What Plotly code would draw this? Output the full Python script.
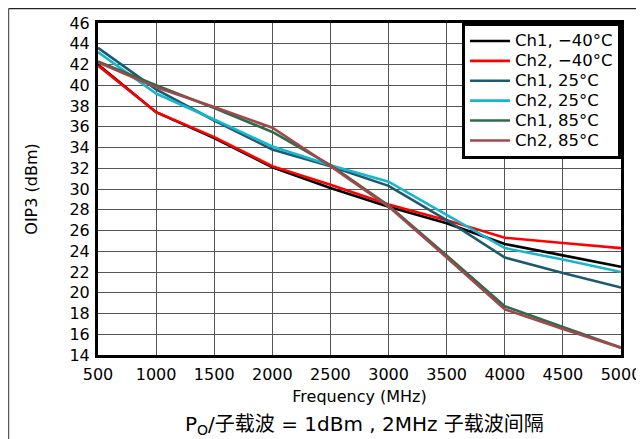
import plotly.graph_objects as go

freq = [500, 1000, 1500, 2000, 2500, 3000, 3500, 4000, 4500, 5000]
ch1_m40 = [42.0, 37.4, 34.9, 32.1, 30.1, 28.3, 26.7, 24.7, 23.6, 22.5]
ch2_m40 = [41.9, 37.4, 35.0, 32.2, 30.4, 28.5, 27.0, 25.3, 24.8, 24.3]
ch1_25 = [43.6, 39.6, 36.6, 33.8, 32.2, 30.3, 27.0, 23.4, 21.9, 20.5]
ch2_25 = [43.2, 39.2, 36.7, 34.1, 32.3, 30.7, 27.5, 24.3, 23.2, 22.0]
ch1_85 = [42.3, 40.0, 37.8, 35.5, 32.3, 28.4, 23.6, 18.7, 16.7, 14.7]
ch2_85 = [42.2, 39.8, 37.9, 35.9, 32.2, 28.3, 23.4, 18.4, 16.5, 14.7]

series = [
    ("Ch1, \u221240\u00b0C", ch1_m40, "#000000"),
    ("Ch2, \u221240\u00b0C", ch2_m40, "#ff0000"),
    ("Ch1, 25\u00b0C", ch1_25, "#1d5a70"),
    ("Ch2, 25\u00b0C", ch2_25, "#17b6cf"),
    ("Ch1, 85\u00b0C", ch1_85, "#2e6b4c"),
    ("Ch2, 85\u00b0C", ch2_85, "#a0484a"),
]

FONT = "DejaVu Sans, Liberation Sans, Arial, sans-serif"

fig = go.Figure()
for name, vals, col in series:
    fig.add_trace(go.Scatter(
        x=freq, y=vals, mode="lines",
        name='<span style="font-size:16.5px">' + name + "</span>",
        line=dict(color=col, width=2.6)))

fig.update_layout(
    width=644, height=439,
    margin=dict(l=90, r=31, t=15, b=92),
    paper_bgcolor="white", plot_bgcolor="white",
    font=dict(family=FONT, size=16, color="#000000"),
    showlegend=True,
    legend=dict(x=1, xanchor="right", y=1, yanchor="top",
                bgcolor="white", bordercolor="#000000", borderwidth=3,
                font=dict(family=FONT, size=13), tracegroupgap=0,
                itemwidth=40),
    xaxis=dict(range=[500, 5000], dtick=500, tick0=500, automargin=False,
               showgrid=True, gridcolor="#555555", gridwidth=1.3,
               showline=True, linecolor="#000000", linewidth=3, mirror=True,
               ticks="outside", ticklen=3, tickcolor="rgba(0,0,0,0)",
               tickfont=dict(size=16),
               title=dict(text="Frequency (MHz)", font=dict(size=16), standoff=8),
               zeroline=False),
    yaxis=dict(range=[14, 46], dtick=2, tick0=14, automargin=False,
               showgrid=True, gridcolor="#555555", gridwidth=1.3,
               showline=True, linecolor="#000000", linewidth=3, mirror=True,
               ticks="outside", ticklen=2, tickcolor="rgba(0,0,0,0)",
               tickfont=dict(size=16),
               title=dict(text="OIP3 (dBm)", font=dict(size=16), standoff=28),
               zeroline=False),
)

fig.add_annotation(
    text="P<sub>O</sub>/子载波 = 1dBm , 2MHz 子载波间隔",
    xref="paper", yref="paper", x=0.509, y=-0.211, xanchor="center", yanchor="middle",
    showarrow=False,
    font=dict(family="DejaVu Sans, Liberation Sans, Noto Sans CJK SC, sans-serif", size=20),
)

# outer frame lines (top and left)
fig.add_shape(type="line", xref="paper", yref="paper", x0=-0.1709, x1=1.06, y0=1.0434, y1=1.0434,
              line=dict(color="#222222", width=1.2))
fig.add_shape(type="line", xref="paper", yref="paper", x0=-0.1709, x1=-0.1709, y0=-0.28, y1=1.0434,
              line=dict(color="#555555", width=1.2))

fig.write_html("out.html")
